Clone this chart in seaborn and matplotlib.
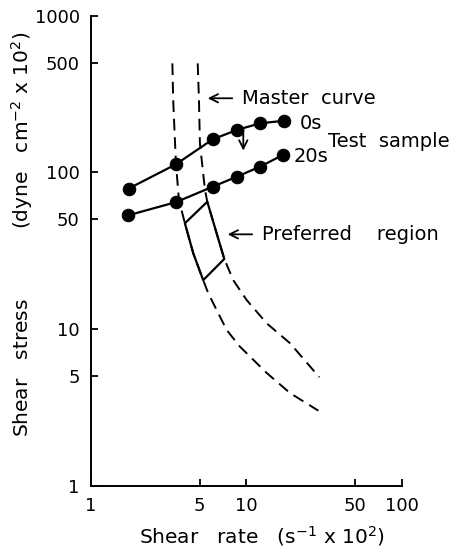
import matplotlib
matplotlib.use("Agg")
import matplotlib.pyplot as plt
import seaborn as sns
import pandas as pd

# test sample, shear rate (s^-1 x 10^2) vs shear stress
rate_0s = [1.75, 3.52, 6.06, 8.65, 12.2, 17.4]
stress_0s = [78.8, 112.5, 162.4, 186.2, 205.5, 213.4]
rate_20s = [1.74, 3.52, 6.06, 8.65, 12.2, 17.1]
stress_20s = [53.2, 64.5, 80.9, 93.7, 108.6, 128.9]

# master curve (two dashed bounds)
master_lo_x = [3.34, 3.38, 3.52, 3.68, 4.02, 4.55, 5.27, 5.68, 7.46, 9.08, 13.49, 19.05, 28.97]
master_lo_y = [496, 289, 114.6, 66.6, 47.3, 30.4, 20.5, 16.9, 9.85, 7.71, 5.24, 3.90, 3.01]
master_hi_x = [4.86, 4.95, 5.02, 5.41, 5.60, 6.43, 7.20, 8.22, 10.03, 13.49, 19.05, 29.4]
master_hi_y = [496, 289, 153, 77.1, 64.9, 40.8, 28.0, 20.5, 15.3, 10.87, 8.11, 4.92]

# preferred region outline
region_x = [4.02, 4.55, 5.27, 7.20, 6.43, 5.60, 4.02]
region_y = [47.3, 30.4, 20.5, 28.0, 40.8, 64.9, 47.3]

xticks = [1, 5, 10, 50, 100]
yticks = [1, 5, 10, 50, 100, 500, 1000]

sns.set_style("ticks")
plt.rcParams['font.family'] = ['DejaVu Sans']
plt.rcParams.update({
    "xtick.direction": "in", "ytick.direction": "in",
    "text.color": "black", "axes.labelcolor": "black",
    "xtick.color": "black", "ytick.color": "black", "axes.edgecolor": "black",
})

fig = plt.figure(figsize=(4.59, 5.5), dpi=100)
ax = fig.add_axes([0.198, 0.117, 0.678, 0.8545])

for mx, my in [(master_lo_x, master_lo_y), (master_hi_x, master_hi_y)]:
    sns.lineplot(x=mx, y=my, ax=ax, color="black", lw=1.4, sort=False,
                 estimator=None, linestyle=(0, (6, 3.5)))

sns.lineplot(x=region_x, y=region_y, ax=ax, color="black", lw=1.6,
             sort=False, estimator=None)

for rx, sy in [(rate_0s, stress_0s), (rate_20s, stress_20s)]:
    df = pd.DataFrame({"rate": rx, "stress": sy})
    sns.lineplot(data=df, x="rate", y="stress", ax=ax, color="black", lw=1.6,
                 marker="o", markersize=9, markeredgecolor="black", sort=False,
                 estimator=None)

ax.set_xscale("log")
ax.set_yscale("log")
ax.set_xlim(1, 100)
ax.set_ylim(1, 1000)
ax.set_xticks(xticks)
ax.set_xticklabels([str(t) for t in xticks])
ax.set_yticks(yticks)
ax.set_yticklabels([str(t) for t in yticks])
ax.minorticks_off()
ax.tick_params(direction="in", length=5, width=1.3, labelsize=13, pad=8)
for s in ["left", "bottom"]:
    ax.spines[s].set_linewidth(1.4)
sns.despine(ax=ax)

fs = 14
arrow = dict(arrowstyle="->", color="black", lw=1.3, mutation_scale=15)
ax.annotate("", xy=(5.41, 297), xytext=(8.44, 297), arrowprops=arrow)
ax.text(9.31, 297, "Master  curve", fontsize=fs, va="center", ha="left")
ax.text(22.1, 205.5, "0s", fontsize=fs, va="center", ha="left")
ax.text(20.2, 125.8, "20s", fontsize=fs, va="center", ha="left")
ax.text(33.4, 156.7, "Test  sample", fontsize=fs, va="center", ha="left")
ax.annotate("", xy=(9.54, 132.2), xytext=(9.54, 195.4), arrowprops=arrow)
ax.annotate("", xy=(7.27, 40.2), xytext=(11.34, 40.2), arrowprops=arrow)
ax.text(12.6, 40.2, "Preferred    region", fontsize=fs, va="center", ha="left")

ax.set_xlabel("Shear   rate   (s$^{-1}$ x 10$^{2}$)", fontsize=14.5)
ax.set_ylabel("Shear   stress           (dyne   cm$^{-2}$ x 10$^{2}$)", fontsize=14.5)
ax.xaxis.set_label_coords(0.55, -0.082)
ax.yaxis.set_label_coords(-0.18, 0.535)

fig.savefig("out.png", dpi=100)
